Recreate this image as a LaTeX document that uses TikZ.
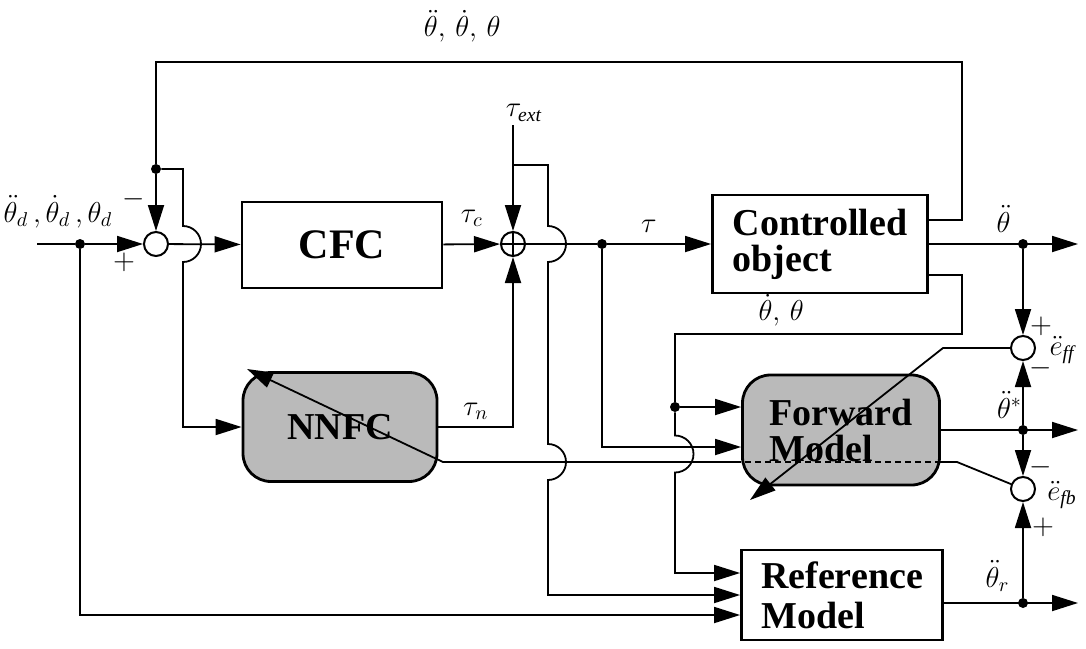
\documentclass[tikz,border=0pt]{standalone}
\usepackage{amsmath}
\usepackage{fontspec}
\setmainfont{Liberation Serif}
\usetikzlibrary{arrows.meta}

\begin{document}
\begin{tikzpicture}[x=0.5pt, y=-0.5pt, >={Triangle[length=13pt,width=8pt]},
		block_style/.style={draw=black,line width=1.4pt,fill=white,align=left,inner sep=0pt,font=\fontsize{19}{18}\selectfont\bfseries},
		model_style/.style={block_style,fill=black!27,rounded corners=14pt},
		sum_style/.style={circle,draw=black,line width=1pt,fill=white,minimum size=12pt,inner sep=0pt},
		dot_style/.style={circle,fill=black,minimum size=5pt,inner sep=0pt},
		edge_style/.style={draw=black,line width=0.9pt},
		lab_style/.style={font=\fontsize{14}{16}\selectfont}]
		
		\useasboundingbox (0,0) rectangle (1086,648);
		
		\node[block_style,minimum width=100pt,minimum height=43pt,font=\fontsize{21}{21}\selectfont\bfseries] (cfc) at (342,245) {CFC};
		\node[block_style,minimum width=107.5pt,minimum height=49pt] (plant) at (820,244) {Controlled\\object};
		\node[model_style,minimum width=97pt,minimum height=54.5pt] (nnfc) at (340,427) {NNFC};
		\node[model_style,minimum width=98.5pt,minimum height=55pt] (fwd) at (841,430) {Forward\\Model};
		\node[block_style,minimum width=100.5pt,minimum height=45pt,font=\fontsize{19}{20}\selectfont\bfseries] (ref) at (842,595) {Reference\\Model};
		
		\node[sum_style] (sumA) at (156,244) {};
		\node[sum_style] (sumB) at (513,244) {};
		\node[sum_style] (sumff) at (1023,348) {};
		\node[sum_style] (sumfb) at (1023,489) {};
		
		\node[dot_style] (dIn) at (80,244) {};
		\node[dot_style] (dTop) at (156,169) {};
		\node[dot_style] (dTau) at (602,244) {};
		\node[dot_style] (dSt) at (675,407) {};
		\node[dot_style] (dAcc) at (1023,244) {};
		\node[dot_style] (dStar) at (1023,430) {};
		\node[dot_style] (dRef) at (1023,603) {};
		
		\coordinate (in) at (37,244);
		\coordinate (fbR) at (962,62);
		\coordinate (fbL) at (156,62);
		\coordinate (hopA) at (183,244);
		\coordinate (ext) at (513,125);
		\coordinate (brExt) at (513,165);
		\coordinate (hopB) at (548,244);
		\coordinate (hopC) at (548,462);
		\coordinate (stR) at (962,334);
		\coordinate (stL) at (675,334);
		\coordinate (hopD) at (675,454);
		\coordinate (out1) at (1078,244);
		\coordinate (out2) at (1078,430);
		\coordinate (out3) at (1078,603);
		\coordinate (ffK) at (943,348);
		\coordinate (ffTip) at (750,500);
		\coordinate (fbK) at (957,462);
		\coordinate (nnK) at (443,462);
		\coordinate (nnTip) at (247,369);
		
		% input and outer loop
		\draw[edge_style] (in) -- (dIn);
		\draw[edge_style,->] (dIn) -- (sumA);
		\draw[edge_style,->] (dIn) |- ([yshift=-10pt]ref.west);
		\draw[edge_style] ([yshift=12pt]plant.east) -| (fbR) -- node[lab_style,above=6pt,pos=0.62] {$\ddot{\theta},\,\dot{\theta},\,\theta$} (fbL) -- (dTop);
		\draw[edge_style,->] (dTop) -- (sumA);
		\draw[edge_style,->] (dTop) -| ([yshift=9pt]hopA) arc[start angle=90,end angle=-90,radius=9pt] |- (nnfc.west);
		
		% controller path
		\draw[edge_style,->] (sumA) -- (cfc);
		\draw[edge_style,->] (cfc) -- node[lab_style,above=5pt] {$\tau_c$} (sumB);
		\draw[edge_style,->] (ext) -- (sumB);
		\draw[edge_style,->] (brExt) -| ([yshift=9pt]hopB) arc[start angle=90,end angle=-90,radius=9pt] -- ([yshift=9pt]hopC) arc[start angle=90,end angle=-90,radius=9pt] |- (ref.west);
		\draw[edge_style,->] (nnfc.east) -| node[lab_style,above,pos=0.25] {$\tau_n$} (sumB.south);
		\draw[edge_style] (sumB.north) -- (sumB.south) (sumB.west) -- (sumB.east);
		\draw[edge_style] (sumB) -- (dTau);
		\draw[edge_style,->] (dTau) -- node[lab_style,above=2pt,pos=0.4] {$\tau$} (plant.west);
		\draw[edge_style,->] (dTau) |- ([yshift=-8.5pt]fwd.west);
		
		% states to models
		\draw[edge_style] ([yshift=-15.5pt]plant.east) -| (stR) -- node[lab_style,above=0pt,pos=0.63] {$\dot{\theta},\,\theta$} (stL) -- (dSt);
		\draw[edge_style,->] (dSt) -- (fwd.west |- dSt);
		\draw[edge_style,->] (dSt) -- ([yshift=9.25pt]hopD) arc[start angle=90,end angle=-90,radius=9.25pt] |- ([yshift=11pt]ref.west);
		
		% outputs
		\draw[edge_style,->] (plant.east) -- node[lab_style,above=2pt] {$\ddot{\theta}$} (out1);
		\draw[edge_style,->] (fwd.east) -- node[lab_style,above=2pt] {$\ddot{\theta}^{*}$} (out2);
		\draw[edge_style,->] ([yshift=-4pt]ref.east) -- node[lab_style,above=2pt,pos=0.4] {$\ddot{\theta}_r$} (out3);
		\draw[edge_style,->] (dAcc) -- (sumff);
		\draw[edge_style,->] (dStar) -- (sumff);
		\draw[edge_style,->] (dStar) -- (sumfb);
		\draw[edge_style,->] (dRef) -- (sumfb);
		
		% learning signals
		\draw[edge_style,->] (sumff) -- (ffK) -- (ffTip);
		\draw[edge_style] (sumfb) -- (fbK) -- (fwd.east |- fbK);
		\draw[edge_style,dash pattern=on 3pt off 2pt] (fwd.east |- fbK) -- (fwd.west |- fbK);
		\draw[edge_style,->] (fwd.west |- fbK) -- (nnK) -- (nnTip);
		
		% signs and labels
		\node[lab_style] (lIn) at (58,212) {$\ddot{\theta}_d\,,\dot{\theta}_d\,,\theta_d$};
		\node[lab_style] (lExt) at (524,113) {$\tau_{\mathit{ext}}$};
		\node[lab_style] (mA) at (134,199) {$-$};
		\node[lab_style] (pA) at (124,262) {$+$};
		\node[lab_style] (pff) at (1041,326) {$+$};
		\node[lab_style] (mff) at (1041,368) {$-$};
		\node[lab_style] (lff) at (1062,350) {$\ddot{e}_{\mathit{ff}}$};
		\node[lab_style] (mfb) at (1041,467) {$-$};
		\node[lab_style] (pfb) at (1043,527) {$+$};
		\node[lab_style] (lfb) at (1062,495) {$\ddot{e}_{\mathit{fb}}$};
		
\end{tikzpicture}
\end{document}
